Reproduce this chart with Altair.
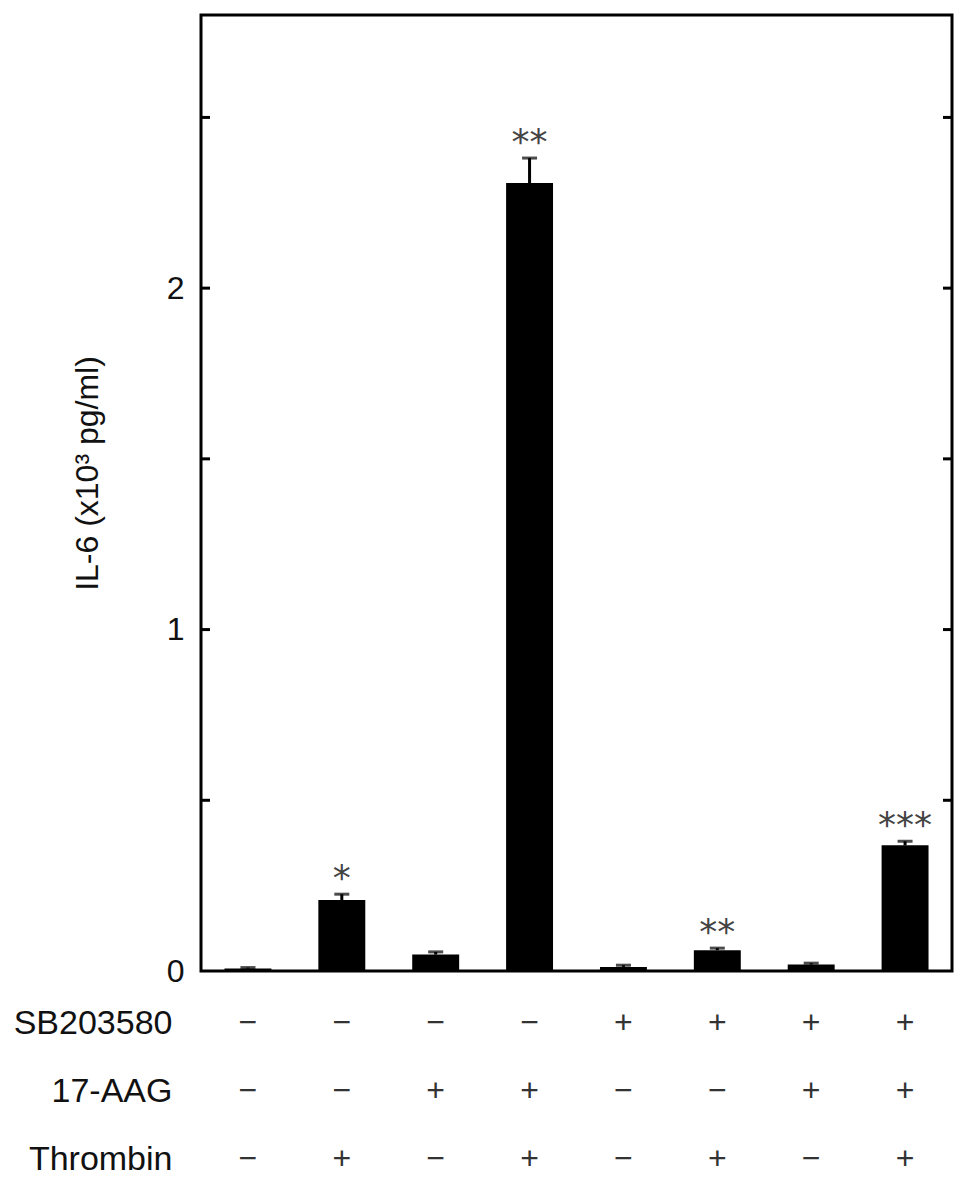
import altair as alt
import pandas as pd

# ---- data ----
categories = ["g1", "g2", "g3", "g4", "g5", "g6", "g7", "g8"]
means = [0.007, 0.208, 0.048, 2.308, 0.012, 0.061, 0.019, 0.368]
errors = [0.003, 0.017, 0.008, 0.073, 0.005, 0.006, 0.004, 0.012]
significance = ["", "*", "", "**", "", "**", "", "***"]

row_names = ["SB203580", "17-AAG", "Thrombin"]
sb203580 = ["−", "−", "−", "−", "+", "+", "+", "+"]
aag17 = ["−", "−", "+", "+", "−", "−", "+", "+"]
thrombin = ["−", "+", "−", "+", "−", "+", "−", "+"]

y_tick_labels = [0, 1, 2]
y_tick_marks = [0.5, 1.0, 1.5, 2.0, 2.5]

W, H = 751, 956
FONT = "Liberation Sans"

bars_df = pd.DataFrame({"cat": categories, "mean": means, "err": errors, "sig": significance})
bars_df["hi"] = bars_df["mean"] + bars_df["err"]
ticks_df = pd.DataFrame({"v": y_tick_marks})

table_rows = []
for name, signs in zip(row_names, [sb203580, aag17, thrombin]):
    for c, s in zip(categories, signs):
        table_rows.append({"row": name, "cat": c, "sign": s})
table_df = pd.DataFrame(table_rows)

xscale = alt.Scale(domain=categories, paddingInner=0.5, paddingOuter=0.25)
yscale = alt.Scale(domain=[0, 2.8], nice=False, zero=True)

base = alt.Chart(bars_df)

bars = base.mark_bar(color="black").encode(
    x=alt.X("cat:N", sort=categories, scale=xscale, axis=None),
    y=alt.Y(
        "mean:Q",
        scale=yscale,
        axis=alt.Axis(
            values=y_tick_labels,
            format="d",
            tickSize=0,
            domain=False,
            grid=False,
            labelFont=FONT,
            labelFontSize=32,
            labelColor="#111",
            labelPadding=17,
            title="IL-6 (x10³ pg/ml)",
            titleFont=FONT,
            titleFontSize=32,
            titleFontWeight="normal",
            titleColor="#111",
            titlePadding=62,
            titleY=458,
        ),
    ),
)

stems = base.mark_rule(color="black", strokeWidth=3).encode(
    x=alt.X("cat:N", sort=categories, scale=xscale),
    y=alt.Y("mean:Q", scale=yscale),
    y2="hi:Q",
)

caps = base.mark_tick(color="black", thickness=3, size=15, orient="horizontal").encode(
    x=alt.X("cat:N", sort=categories, scale=xscale),
    y=alt.Y("hi:Q", scale=yscale),
)

stars = base.mark_text(
    font="DejaVu Sans", fontSize=36, color="#444", baseline="middle", dy=-15
).encode(
    x=alt.X("cat:N", sort=categories, scale=xscale),
    y=alt.Y("hi:Q", scale=yscale),
    text="sig:N",
)

left_ticks = alt.Chart(ticks_df).mark_rule(color="black", strokeWidth=3).encode(
    y=alt.Y("v:Q", scale=yscale),
    x=alt.value(0),
    x2=alt.value(9),
)
right_ticks = alt.Chart(ticks_df).mark_rule(color="black", strokeWidth=3).encode(
    y=alt.Y("v:Q", scale=yscale),
    x=alt.value(W - 9),
    x2=alt.value(W),
)

main = alt.layer(bars, stems, caps, stars, left_ticks, right_ticks).properties(
    width=W, height=H, view=alt.ViewBackground(stroke="black", strokeWidth=3)
)

table = alt.Chart(table_df).mark_text(
    font=FONT, fontSize=32, color="#333", baseline="middle"
).encode(
    x=alt.X("cat:N", sort=categories, scale=xscale, axis=None),
    y=alt.Y(
        "row:N",
        sort=row_names,
        scale=alt.Scale(type="point", padding=0.3235, align=0.773),
        axis=alt.Axis(
            title=None,
            domain=False,
            ticks=False,
            tickSize=0,
            labelFont=FONT,
            labelFontSize=34,
            labelColor="#111",
            labelPadding=29,
        ),
    ),
    text="sign:N",
).properties(width=W, height=180, view=alt.ViewBackground(stroke=None))

chart = alt.vconcat(main, table, spacing=0).properties(padding=5).configure(
    background="white"
)

chart.save("out.html", embed_options={"renderer": "svg", "actions": False})
